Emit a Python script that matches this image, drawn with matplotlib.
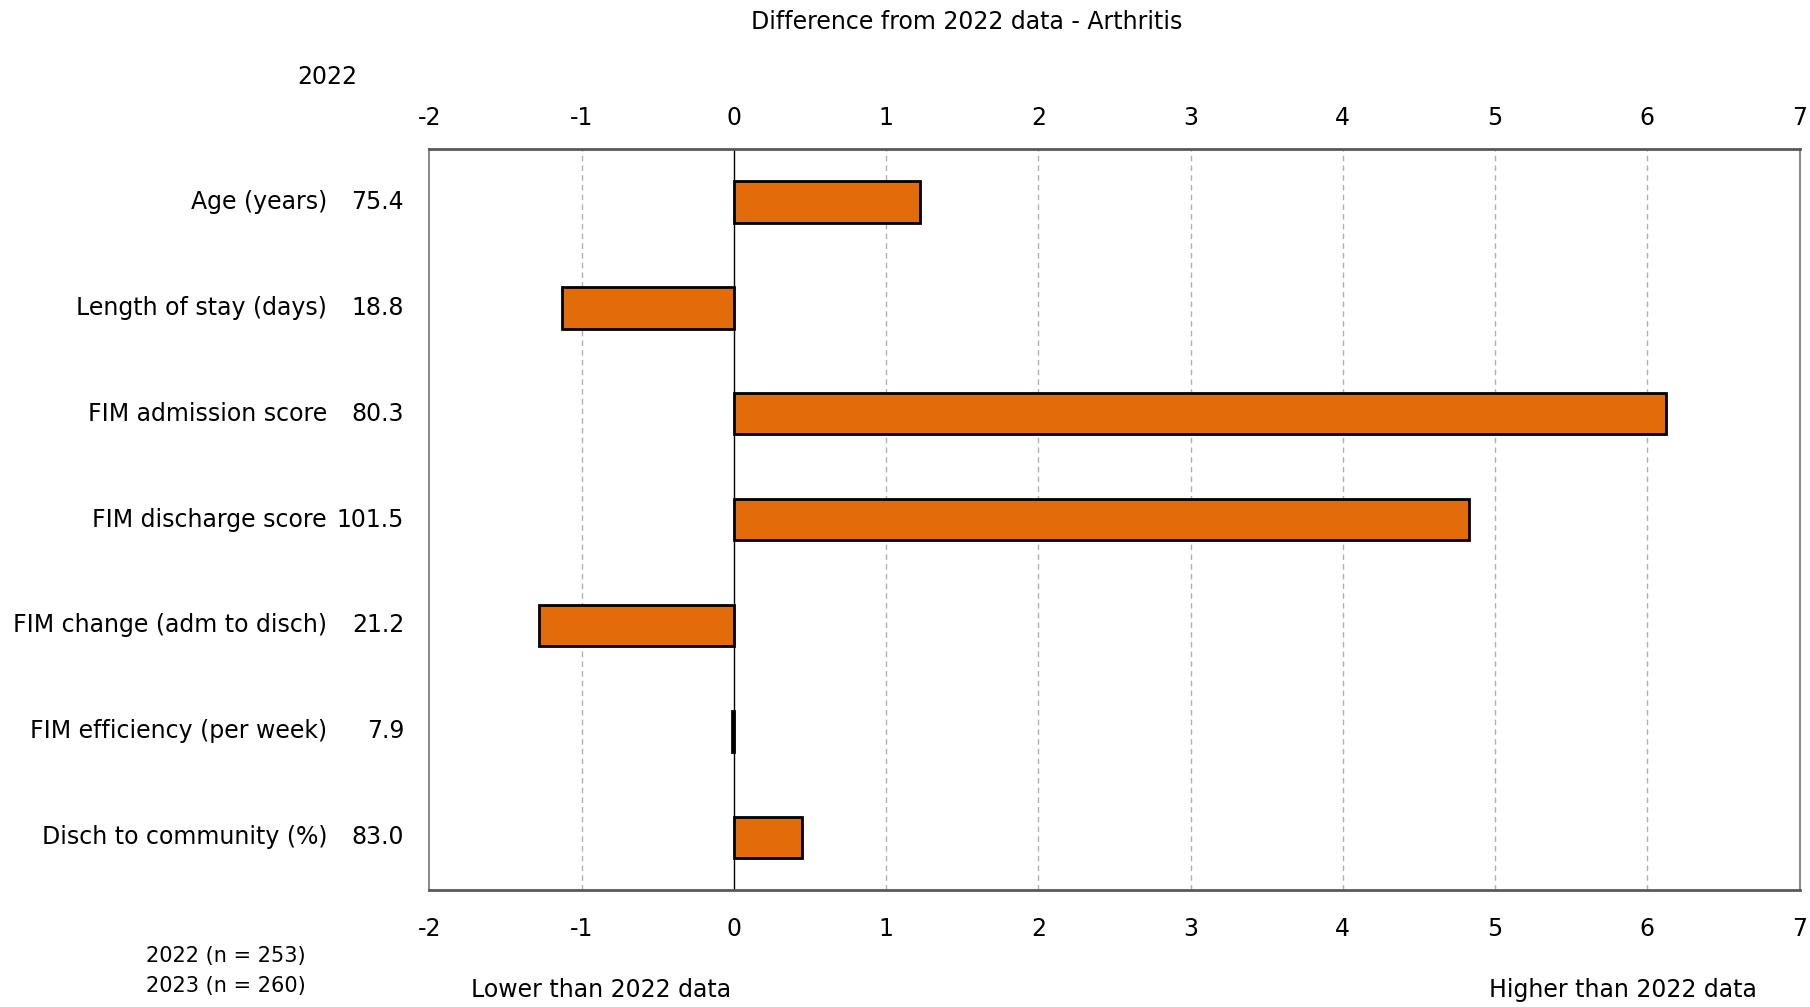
import matplotlib.pyplot as plt
import numpy as np

plt.rcParams['font.family'] = ['DejaVu Sans']

categories = ['Age (years)', 'Length of stay (days)', 'FIM admission score',
              'FIM discharge score', 'FIM change (adm to disch)',
              'FIM efficiency (per week)', 'Disch to community (%)']
values_2022 = ['75.4', '18.8', '80.3', '101.5', '21.2', '7.9', '83.0']
diff = [1.22, -1.13, 6.12, 4.83, -1.28, -0.015, 0.45]
xticks = [-2, -1, 0, 1, 2, 3, 4, 5, 6, 7]

fs = 17

fig = plt.figure(figsize=(18.10, 10.07), dpi=100)
ax = fig.add_axes([0.2372, 0.116, 0.757, 0.736])

y = np.arange(len(categories))
ax.barh(y, diff, height=0.39, color='#E36C0A', edgecolor='black', linewidth=2, zorder=3)
ax.axvline(0, color='black', linewidth=1, zorder=2)

ax.set_xlim(-2, 7)
ax.set_ylim(len(categories) - 0.5, -0.5)
ax.set_xticks(xticks)
ax.set_xticklabels([str(t) for t in xticks])
ax.tick_params(axis='x', length=0, pad=19, labelsize=fs)
ax.set_yticks([])
top = ax.secondary_xaxis('top')
top.set_xticks(xticks)
top.set_xticklabels([str(t) for t in xticks])
top.tick_params(axis='x', length=0, pad=14, labelsize=fs)
top.spines['top'].set_visible(False)

for t in [-1, 1, 2, 3, 4, 5, 6]:
    ax.axvline(t, color='#b0b0b0', linestyle=(0, (4, 3)), linewidth=1, zorder=1)

for s in ['left', 'right']:
    ax.spines[s].set_color('#8c8c8c')
    ax.spines[s].set_linewidth(1.5)
for s in ['top', 'bottom']:
    ax.spines[s].set_color('#595959')
    ax.spines[s].set_linewidth(2)

# row labels and 2022 values
for i, (c, v) in enumerate(zip(categories, values_2022)):
    yy = ax.transData.transform((0, i))[1] / fig.bbox.height
    fig.text(327 / 1810, yy, c, ha='right', va='center', fontsize=fs)
    fig.text(404 / 1810, yy, v, ha='right', va='center', fontsize=fs)

fig.text(327 / 1810, 1 - 77 / 1007, '2022', ha='center', va='center', fontsize=fs)
fig.text(967 / 1810, 1 - 22 / 1007, 'Difference from 2022 data - Arthritis', ha='center', va='center', fontsize=fs)
fig.text(146 / 1810, 1 - 956 / 1007, '2022 (n = 253)', ha='left', va='center', fontsize=fs - 2)
fig.text(146 / 1810, 1 - 986 / 1007, '2023 (n = 260)', ha='left', va='center', fontsize=fs - 2)
fig.text(471 / 1810, 1 - 990 / 1007, 'Lower than 2022 data', ha='left', va='center', fontsize=fs)
fig.text(1757 / 1810, 1 - 990 / 1007, 'Higher than 2022 data', ha='right', va='center', fontsize=fs)

fig.savefig('out.png', dpi=100)
